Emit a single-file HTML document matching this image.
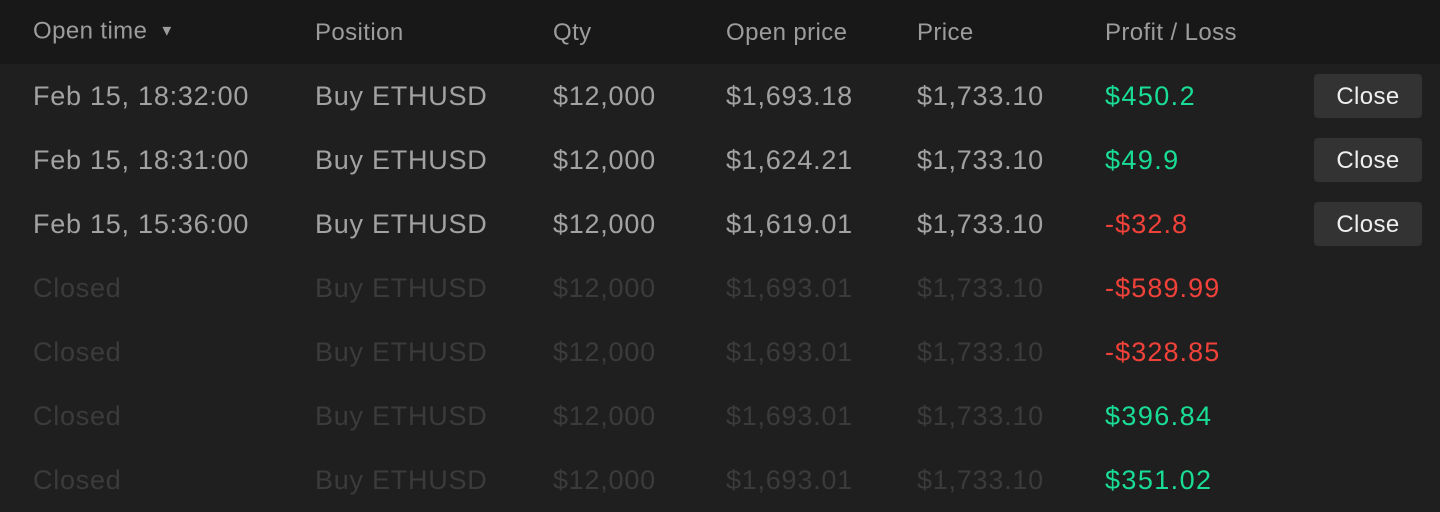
<!DOCTYPE html>
<html><head><meta charset="utf-8"><style>
body{margin:0;width:1440px;height:512px;background:#1f1f1f;font-family:"Liberation Sans",sans-serif;overflow:hidden}
.hdr{position:absolute;left:0;top:0;width:1440px;height:64px;background:#181818}
.t{position:absolute;font-size:27px;letter-spacing:0.75px;line-height:32px;white-space:nowrap;transform:translateY(-50%)}
.h{color:#9c9c9c;font-size:24px;letter-spacing:0.4px}
.a{color:#a2a2a2}
.c{color:#3b3b3b}
.g{color:#19dc95;letter-spacing:1.4px}
.r{color:#f0413a;letter-spacing:1.1px}
.btn{position:absolute;left:1314px;width:108px;height:44px;background:#333;border-radius:4px;color:#eee;font-size:24px;letter-spacing:0.4px;line-height:46px;text-align:center}
</style></head><body>
<div class="hdr"></div>
<div id="root"></div>
<script>
const headers=["Open time","Position","Qty","Open price","Price","Profit / Loss"];
const times=["Feb 15, 18:32:00","Feb 15, 18:31:00","Feb 15, 15:36:00","Closed","Closed","Closed","Closed"];
const positions=["Buy ETHUSD","Buy ETHUSD","Buy ETHUSD","Buy ETHUSD","Buy ETHUSD","Buy ETHUSD","Buy ETHUSD"];
const qtys=["$12,000","$12,000","$12,000","$12,000","$12,000","$12,000","$12,000"];
const openPrices=["$1,693.18","$1,624.21","$1,619.01","$1,693.01","$1,693.01","$1,693.01","$1,693.01"];
const prices=["$1,733.10","$1,733.10","$1,733.10","$1,733.10","$1,733.10","$1,733.10","$1,733.10"];
const pnl=[450.2,49.9,-32.8,-589.99,-328.85,396.84,351.02];
const cols=[33,315,553,726,917,1105];
const root=document.getElementById('root');
function add(txt,x,y,cls,name){const d=document.createElement('div');d.className='t '+cls;d.textContent=txt;d.style.left=x+'px';d.style.top=y+'px';


root.appendChild(d);return d;}
headers.forEach((h,i)=>{const d=add(h,cols[i],33,'h','header-'+i);if(i===0){d.innerHTML=h+' <span style="font-size:15px;position:relative;top:-3px;margin-left:5px">&#9660;</span>';}});
times.forEach((t,i)=>{const y=96+i*64;const open=t!=="Closed";const cl=open?'a':'c';
add(t,cols[0],y,cl,'open-time-cell');add(positions[i],cols[1],y,cl,'position-cell');add(qtys[i],cols[2],y,cl,'qty-cell');
add(openPrices[i],cols[3],y,cl,'open-price-cell');add(prices[i],cols[4],y,cl,'price-cell');
const v=pnl[i];add((v<0?'-$':'$')+Math.abs(v),cols[5],y,v<0?'r':'g','profit-loss-cell');
if(open){const b=document.createElement('div');b.className='btn';b.textContent='Close';b.style.top=(y-22)+'px';


root.appendChild(b);}});
</script>
</body></html>
